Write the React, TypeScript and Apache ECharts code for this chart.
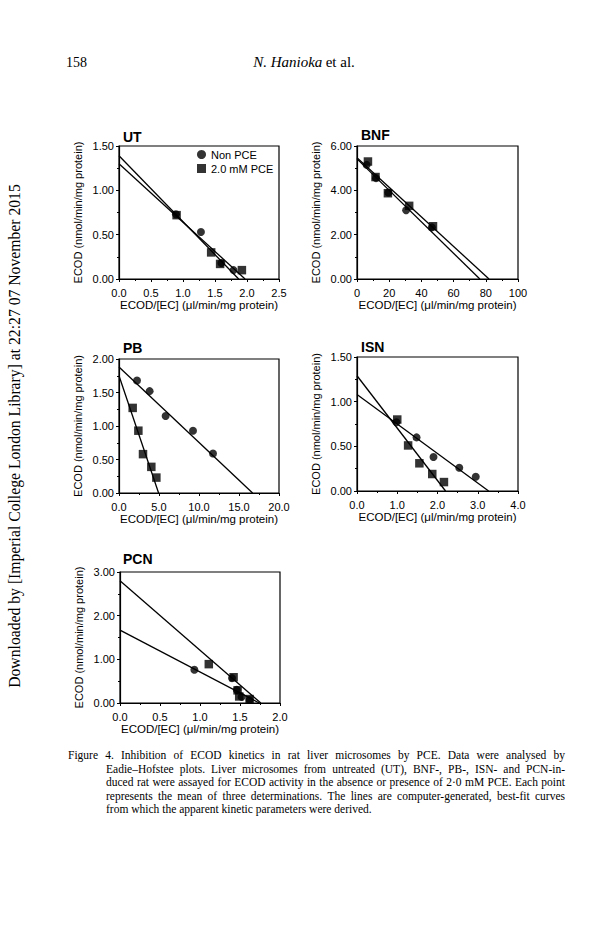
import React, { useEffect, useRef } from "react";
import * as echarts from "echarts";

// ---------- DATA ----------
const xTickDecimals = [1, 0, 1, 1, 1];
const panelTitles = ["UT", "BNF", "PB", "ISN", "PCN"];
const xMaxValues = [2.5, 100, 20, 4, 2];
const xIntervals = [0.5, 20, 5, 1, 0.5];
const yMaxValues = [1.5, 6, 2, 1.5, 3];
const yIntervals = [0.5, 2, 0.5, 0.5, 1];

// [ECOD/[EC], ECOD]
const utNonPCE = [[0.89, 0.73], [1.28, 0.53], [1.6, 0.18], [1.79, 0.1]];
const utPCE = [[0.9, 0.72], [1.44, 0.3], [1.58, 0.17], [1.92, 0.1]];
const utFitNon = [[0, 1.39], [1.87, 0]];
const utFitPCE = [[0, 1.3], [1.97, 0]];

const bnfNonPCE = [[6.0, 5.15], [11.8, 4.55], [19.5, 3.9], [30.5, 3.1], [46.5, 2.33]];
const bnfPCE = [[6.8, 5.3], [11.5, 4.6], [19.2, 3.87], [32.4, 3.3], [47.2, 2.38]];
const bnfFitNon = [[0, 5.42], [76.3, 0]];
const bnfFitPCE = [[0, 5.47], [82, 0]];

const pbNonPCE = [[2.25, 1.68], [3.83, 1.52], [5.83, 1.15], [9.25, 0.93], [11.75, 0.59]];
const pbPCE = [[1.71, 1.27], [2.42, 0.93], [3.0, 0.58], [4.04, 0.39], [4.67, 0.23]];
const pbFitNon = [[0, 1.88], [16.7, 0]];
const pbFitPCE = [[0, 1.75], [4.95, 0]];

const isnNonPCE = [[0.98, 0.77], [1.48, 0.6], [1.9, 0.38], [2.54, 0.26], [2.95, 0.16]];
const isnPCE = [[1.0, 0.8], [1.27, 0.51], [1.55, 0.31], [1.87, 0.19], [2.16, 0.1]];
const isnFitNon = [[0, 1.08], [3.27, 0]];
const isnFitPCE = [[0, 1.29], [2.2, 0]];

const pcnNonPCE = [[0.93, 0.76], [1.4, 0.57], [1.46, 0.3], [1.52, 0.14], [1.62, 0.07]];
const pcnPCE = [[1.11, 0.89], [1.42, 0.59], [1.47, 0.29], [1.49, 0.15], [1.62, 0.09]];
const pcnFitNon = [[0, 1.67], [1.74, 0]];
const pcnFitPCE = [[0, 2.8], [1.76, 0]];

const nonPCEData = [utNonPCE, bnfNonPCE, pbNonPCE, isnNonPCE, pcnNonPCE];
const pceData = [utPCE, bnfPCE, pbPCE, isnPCE, pcnPCE];
const fitNonData = [utFitNon, bnfFitNon, pbFitNon, isnFitNon, pcnFitNon];
const fitPCEData = [utFitPCE, bnfFitPCE, pbFitPCE, isnFitPCE, pcnFitPCE];

const legendNames = ["Non PCE", "2.0 mM PCE"];
const yAxisName = "ECOD (nmol/min/mg protein)";
const xAxisName = "ECOD/[EC] (μl/min/mg protein)";

const headerPage = "158";
const sideNote = "Downloaded by [Imperial College London Library] at 22:27 07 November 2015";
const captionLines = [
  "Figure 4.  Inhibition of ECOD kinetics in rat liver microsomes by PCE. Data were analysed by",
  "Eadie–Hofstee plots. Liver microsomes from untreated (UT), BNF-, PB-, ISN- and PCN-in-",
  "duced rat were assayed for ECOD activity in the absence or presence of 2·0 mM PCE. Each point",
  "represents the mean of three determinations. The lines are computer-generated, best-fit curves",
  "from which the apparent kinetic parameters were derived.",
];

// ---------- LAYOUT ----------
const layout = [
  { left: 119, top: 146, width: 160, height: 133, tl: 123, tt: 130 },
  { left: 357, top: 146, width: 161, height: 133, tl: 361, tt: 128 },
  { left: 119, top: 359, width: 160, height: 134, tl: 123, tt: 341 },
  { left: 357, top: 357, width: 161, height: 134, tl: 361, tt: 340 },
  { left: 120, top: 572, width: 160, height: 131, tl: 123, tt: 552 },
];

const SANS = "'Liberation Sans', Arial, Helvetica, sans-serif";
const SERIF = "'Liberation Serif', 'Times New Roman', serif";
const CAPTION_FONT = `11.5px ${SERIF}`;
const CAPTION_RIGHT = 565;

export default function App() {
  const ref = useRef<HTMLDivElement>(null);

  useEffect(() => {
    if (!ref.current) return;
    const chart = echarts.init(ref.current, undefined, { renderer: "svg" });

    const ctx = document.createElement("canvas").getContext("2d") as CanvasRenderingContext2D;
    const measure = (t: string, font: string) => {
      ctx.font = font;
      return ctx.measureText(t).width;
    };

    const grids: any[] = [];
    const xAxes: any[] = [];
    const yAxes: any[] = [];
    const series: any[] = [];
    const titles: any[] = [];

    layout.forEach((L, i) => {
      grids.push({
        left: L.left,
        top: L.top,
        width: L.width,
        height: L.height,
        show: true,
        borderColor: "#000",
        borderWidth: 1.2,
        backgroundColor: "transparent",
      });
      titles.push({
        text: panelTitles[i],
        left: L.tl,
        top: L.tt,
        padding: 0,
        textStyle: { fontFamily: SANS, fontWeight: "bold", fontSize: 14, color: "#000" },
      });
      const dec = xTickDecimals[i];
      xAxes.push({
        gridIndex: i,
        type: "value",
        min: 0,
        max: xMaxValues[i],
        interval: xIntervals[i],
        axisLine: { show: true, onZero: false, lineStyle: { color: "#000", width: 1.2 } },
        axisTick: { show: true, inside: false, length: 3, lineStyle: { color: "#000", width: 1 } },
        minorTick: { show: true, splitNumber: 2, length: 2, lineStyle: { color: "#000", width: 1 } },
        splitLine: { show: false },
        axisLabel: {
          color: "#000",
          fontFamily: SANS,
          fontSize: 11,
          margin: 8,
          formatter: (v: number) => v.toFixed(dec),
        },
        name: xAxisName,
        nameLocation: "middle",
        nameGap: 20,
        nameTextStyle: { color: "#000", fontFamily: SANS, fontSize: 11.5 },
      });
      yAxes.push({
        gridIndex: i,
        type: "value",
        min: 0,
        max: yMaxValues[i],
        interval: yIntervals[i],
        axisLine: { show: true, onZero: false, lineStyle: { color: "#000", width: 1.2 } },
        axisTick: { show: true, inside: false, length: 3, lineStyle: { color: "#000", width: 1 } },
        minorTick: { show: true, splitNumber: 2, length: 2, lineStyle: { color: "#000", width: 1 } },
        splitLine: { show: false },
        axisLabel: {
          color: "#000",
          fontFamily: SANS,
          fontSize: 11,
          margin: 5,
          formatter: (v: number) => v.toFixed(2),
        },
        name: yAxisName,
        nameLocation: "middle",
        nameGap: 36,
        nameTextStyle: { color: "#000", fontFamily: SANS, fontSize: 11 },
      });

      const prefix = i === 0 ? "" : panelTitles[i] + " ";
      series.push({
        type: "line",
        name: prefix + "fit " + legendNames[0],
        xAxisIndex: i,
        yAxisIndex: i,
        data: fitNonData[i],
        symbol: "none",
        lineStyle: { color: "#000", width: 1.3 },
        silent: true,
      });
      series.push({
        type: "line",
        name: prefix + "fit " + legendNames[1],
        xAxisIndex: i,
        yAxisIndex: i,
        data: fitPCEData[i],
        symbol: "none",
        lineStyle: { color: "#000", width: 1.3 },
        silent: true,
      });
      series.push({
        type: "scatter",
        name: prefix + legendNames[0],
        xAxisIndex: i,
        yAxisIndex: i,
        data: nonPCEData[i],
        symbol: "circle",
        symbolSize: 8,
        itemStyle: { color: "#000" },
        z: 5,
      });
      series.push({
        type: "scatter",
        name: prefix + legendNames[1],
        xAxisIndex: i,
        yAxisIndex: i,
        data: pceData[i],
        symbol: "rect",
        symbolSize: 8.5,
        itemStyle: { color: "#000" },
        z: 4,
      });
    });

    const graphics: any[] = [
      {
        type: "text",
        x: 66,
        y: 62,
        style: { text: headerPage, font: `14px ${SERIF}`, fill: "#000", verticalAlign: "middle" },
      },
      {
        type: "text",
        x: 304,
        y: 62,
        style: {
          text: "{i|N. Hanioka} {n|et al.}",
          align: "center",
          verticalAlign: "middle",
          fill: "#000",
          rich: {
            i: { fontFamily: SERIF, fontStyle: "italic", fontSize: 15, fill: "#000" },
            n: { fontFamily: SERIF, fontSize: 15, fill: "#000" },
          },
        },
      },
      {
        type: "text",
        x: 14,
        y: 436,
        rotation: Math.PI / 2,
        style: {
          text: sideNote,
          font: `15.7px ${SERIF}`,
          fill: "#000",
          align: "center",
          verticalAlign: "middle",
        },
      },
    ];

    captionLines.forEach((t, k) => {
      const x0 = k === 0 ? 68 : 106;
      const y = 755 + k * 13.5;
      const justify = k < captionLines.length - 1;
      if (!justify) {
        graphics.push({
          type: "text",
          x: x0,
          y,
          style: { text: t, font: CAPTION_FONT, fill: "#000", align: "left", verticalAlign: "middle" },
        });
        return;
      }
      const words = t.split(/\s+/);
      const widths = words.map((w) => measure(w, CAPTION_FONT));
      const total = widths.reduce((a, b) => a + b, 0);
      const gap = (CAPTION_RIGHT - x0 - total) / (words.length - 1);
      let x = x0;
      words.forEach((w, j) => {
        graphics.push({
          type: "text",
          x,
          y,
          style: { text: w, font: CAPTION_FONT, fill: "#000", align: "left", verticalAlign: "middle" },
        });
        x += widths[j] + gap;
      });
    });

    chart.setOption({
      animation: false,
      backgroundColor: "#fff",
      title: titles,
      legend: {
        left: 192,
        top: 144,
        orient: "vertical",
        itemWidth: 9,
        itemHeight: 9,
        itemGap: 3,
        textStyle: { color: "#000", fontFamily: SANS, fontSize: 11 },
        data: [
          { name: legendNames[0], icon: "circle" },
          { name: legendNames[1], icon: "rect" },
        ],
      },
      grid: grids,
      xAxis: xAxes,
      yAxis: yAxes,
      series,
      graphic: graphics,
    });

    return () => chart.dispose();
  }, []);

  return (
    <div
      ref={ref}
      style={{ position: "absolute", left: 0, top: 0, width: 615, height: 944, background: "#fff" }}
    />
  );
}
